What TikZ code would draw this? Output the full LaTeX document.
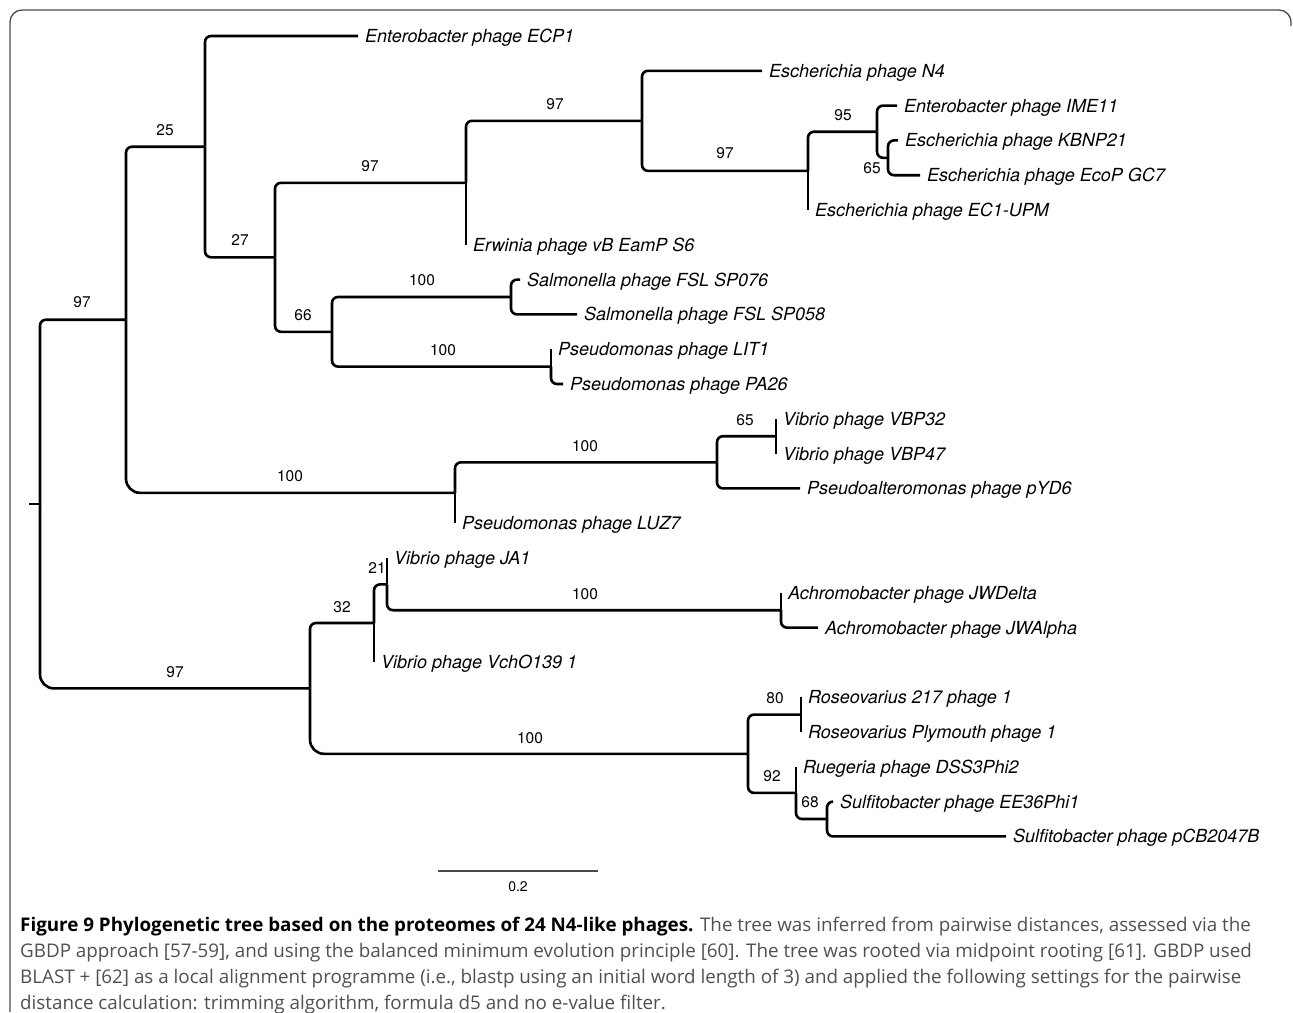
\documentclass[tikz,border=0pt]{standalone}
\usepackage{fontspec}
\setmainfont{TeX Gyre Heros}
\newfontfamily\capfont{Open Sans}
\usetikzlibrary{positioning,calc}
\definecolor{framegray}{HTML}{4A4A4A}
\definecolor{capgray}{HTML}{505050}

\begin{document}
\begin{tikzpicture}[x=1pt,y=-1pt,
  branch/.style={line width=2.6pt,rounded corners=6pt},
  longbranch/.style={line width=2.6pt,rounded corners=14pt},
  tip/.style={line width=2.6pt},
  leaf/.style={anchor=west,inner xsep=7pt,inner ysep=0pt,text height=13pt,text depth=0pt,font=\fontsize{18}{20}\selectfont\itshape},
  boot/.style={inner sep=0pt,text height=11pt,text depth=0pt,font=\fontsize{15.5}{17}\selectfont},
  capline/.style={anchor=base west,inner sep=0pt,text=capgray,font=\capfont\fontsize{18.8}{22}\selectfont}]
  \useasboundingbox (0,0) rectangle (1293,1012);
  % frame
  \draw[framegray,line width=1.3pt,rounded corners=12pt] (10,1012) -- (10,10) -- (1291,10) -- (1291,26);
  % leaves
  \foreach \x/\t [count=\i] in {358/Enterobacter phage ECP1, 762/Escherichia phage N4,
      897/Enterobacter phage IME11, 898/Escherichia phage KBNP21, 920/Escherichia phage EcoP GC7,
      808/Escherichia phage EC1-UPM, 466/Erwinia phage vB EamP S6, 520/Salmonella phage FSL SP076,
      577/Salmonella phage FSL SP058, 551/Pseudomonas phage LIT1, 563/Pseudomonas phage PA26,
      776/Vibrio phage VBP32, 776/Vibrio phage VBP47, 800/Pseudoalteromonas phage pYD6,
      455/Pseudomonas phage LUZ7, 387/Vibrio phage JA1, 781/Achromobacter phage JWDelta,
      818/Achromobacter phage JWAlpha, 374/Vibrio phage VchO139 1, 801/Roseovarius 217 phage 1,
      801/Roseovarius Plymouth phage 1, 796/Ruegeria phage DSS3Phi2, 833/Sulfitobacter phage EE36Phi1,
      1006/Sulfitobacter phage pCB2047B}
    \node[leaf] (l\i) at (\x,{36+34.8*(\i-1)}) {\t};
  % internal nodes
  \coordinate (stub) at (29,504);
  \coordinate (nRoot) at (40,504);
  \coordinate (nA) at (126,319.7);
  \coordinate (nC) at (205,146.7);
  \coordinate (nD) at (275,257.3);
  \coordinate (nE) at (466,182.8);
  \coordinate (nG) at (642,120.8);
  \coordinate (nH) at (808,170.9);
  \coordinate (nI) at (877,131.7);
  \coordinate (nJ) at (888,157.8);
  \coordinate (nF) at (332,331.8);
  \coordinate (nK) at (511,297);
  \coordinate (nL) at (551,366.6);
  \coordinate (nM) at (455,492.8);
  \coordinate (nN) at (717,462.3);
  \coordinate (nO) at (776,436.2);
  \coordinate (nB) at (310,688.4);
  \coordinate (nP) at (374,623);
  \coordinate (nR) at (387,584.4);
  \coordinate (nS) at (781,610.2);
  \coordinate (nQ) at (748,753.8);
  \coordinate (nT) at (801,714.6);
  \coordinate (nU) at (796,792.9);
  \coordinate (nV) at (827,819);
  % upper clade
  \draw[tip] (stub) -- (nRoot);
  \draw[branch] (nRoot) |- (nA);
  \draw[longbranch] (nRoot) |- (nB);
  \draw[branch] (nA) |- (nC);
  \draw[longbranch] (nA) |- (nM);
  \draw[branch] (nC) |- (l1.west);
  \draw[branch] (nC) |- (nD);
  \draw[branch] (nD) |- (nE);
  \draw[branch] (nD) |- (nF);
  \draw[branch] (nE) |- (nG);
  \draw[tip] (nE) -- (nE |- l7.west);
  \draw[branch] (nG) |- (l2.west);
  \draw[branch] (nG) |- (nH);
  \draw[branch] (nH) |- (nI);
  \draw[tip] (nH) -- (nH |- l6.west);
  \draw[branch] (nI) |- (l3.west);
  \draw[branch] (nI) |- (nJ);
  \draw[branch] (nJ) |- (l4.west);
  \draw[branch] (nJ) |- (l5.west);
  \draw[branch] (nF) |- (nK);
  \draw[branch] (nF) |- (nL);
  \draw[branch] (nK) |- (l8.west);
  \draw[branch] (nK) |- (l9.west);
  \draw[tip] (nL) -- (nL |- l10.west);
  \draw[branch] (nL) |- (l11.west);
  \draw[branch] (nM) |- (nN);
  \draw[tip] (nM) -- (nM |- l15.west);
  \draw[branch] (nN) |- (nO);
  \draw[branch] (nN) |- (l14.west);
  \draw[tip] (nO) -- (nO |- l12.west);
  \draw[tip] (nO) -- (nO |- l13.west);
  % lower clade
  \draw[branch] (nB) |- (nP);
  \draw[longbranch] (nB) |- (nQ);
  \draw[branch] (nP) |- (nR);
  \draw[tip] (nP) -- (nP |- l19.west);
  \draw[tip] (nR) -- (nR |- l16.west);
  \draw[branch] (nR) |- (nS);
  \draw[tip] (nS) -- (nS |- l17.west);
  \draw[branch] (nS) |- (l18.west);
  \draw[branch] (nQ) |- (nT);
  \draw[branch] (nQ) |- (nU);
  \draw[tip] (nT) -- (nT |- l20.west);
  \draw[tip] (nT) -- (nT |- l21.west);
  \draw[tip] (nU) -- (nU |- l22.west);
  \draw[branch] (nU) |- (nV);
  \draw[branch] (nV) |- (l23.west);
  \draw[branch] (nV) |- (l24.west);
  % bootstrap values
  \foreach \p/\v [count=\k] in {{82,302}/97, {175,672}/97, {165,130}/25, {240,240}/27, {370,166}/97,
      {555,104}/97, {725,153}/97, {843,115}/95, {872,168}/65, {303,315}/66, {422,280}/100,
      {443,350}/100, {290,476}/100, {585,446}/100, {745,420}/65, {342,607}/32, {377,568}/21,
      {585,594}/100, {530,738}/100, {775,698}/80, {772,776}/92, {810,802}/68}
    \node[boot] (b\k) at (\p) {\v};
  % scale bar
  \coordinate (s0) at (438,871);
  \coordinate (s1) at (598,871);
  \draw[framegray,line width=1.5pt] (s0) -- (s1);
  \node[font=\fontsize{14}{16}\selectfont,inner sep=0pt] (slab) at (518,887) {0.2};
  % caption
  \node[capline] (cap1) at (20,931) {\textcolor{black}{\textbf{Figure 9 Phylogenetic tree based on the proteomes of 24 N4-like phages.}} The tree was inferred from pairwise distances, assessed via the};
  \node[capline] (cap2) at (20,957) {GBDP approach [57-59], and using the balanced minimum evolution principle [60]. The tree was rooted via midpoint rooting [61]. GBDP used};
  \node[capline] (cap3) at (20,983) {BLAST + [62] as a local alignment programme (i.e., blastp using an initial word length of 3) and applied the following settings for the pairwise};
  \node[capline] (cap4) at (20,1009) {distance calculation: trimming algorithm, formula d5 and no e-value filter.};
\end{tikzpicture}
\end{document}
